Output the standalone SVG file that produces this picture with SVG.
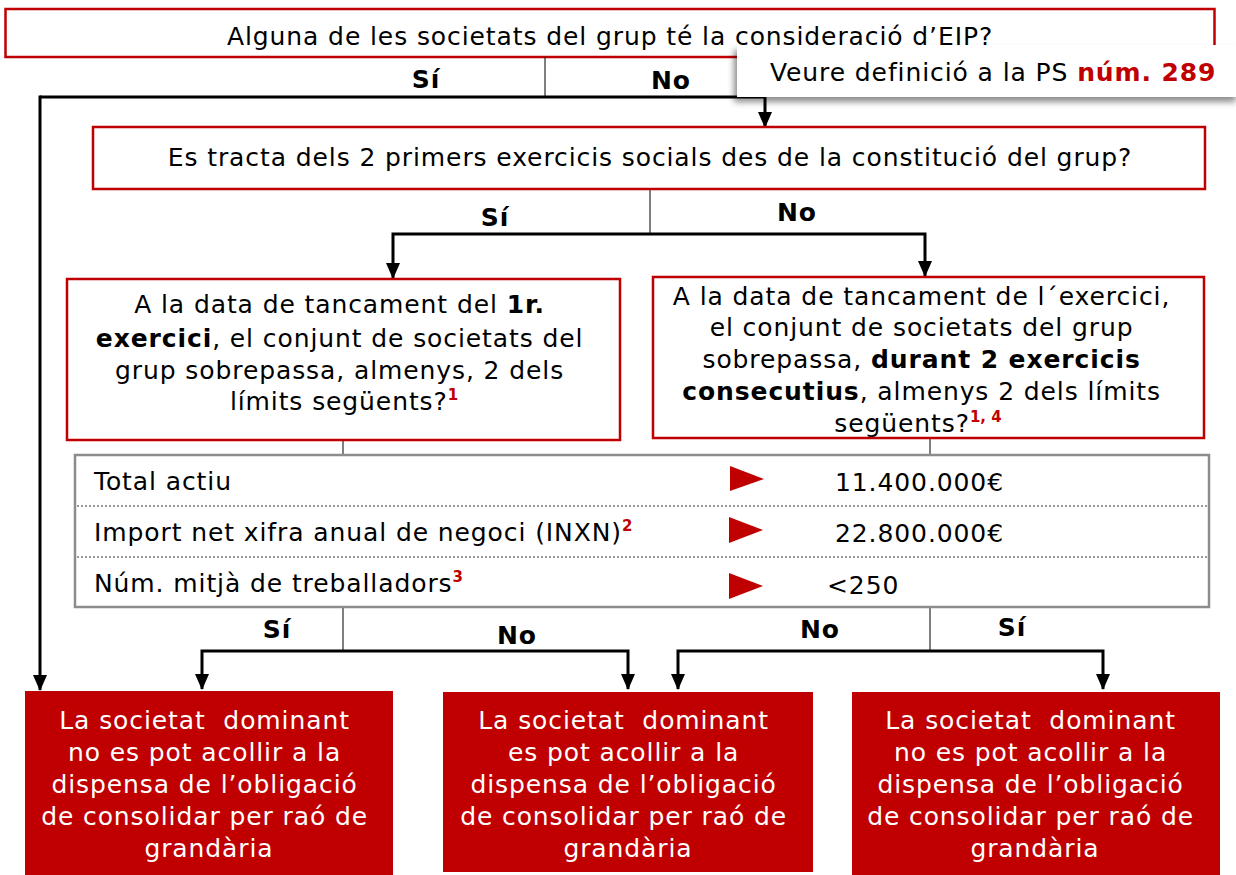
<svg xmlns="http://www.w3.org/2000/svg" width="1236" height="875" viewBox="0 0 1236 875">
<defs>
<style>
text{font-family:"DejaVu Sans",Verdana,sans-serif;font-size:25px;letter-spacing:0.9px;fill:#000}
.b{font-weight:bold}
.lbl{font-weight:bold;font-size:25px}
.sup{font-weight:bold;font-size:15px;fill:#c00000;letter-spacing:0}
.q{fill:#fff;stroke:#c00000;stroke-width:2.5}
.res{fill:#c00000}
.res text{fill:#fff}
.thin{stroke:#000;stroke-width:1;fill:none}
.main{stroke:#000;stroke-width:3;fill:none}
.tri{fill:#c00000}
.dot{stroke:#999;stroke-width:2;stroke-dasharray:2 2}
</style>
<marker id="ah" viewBox="0 0 16 14" refX="15" refY="7" markerWidth="16" markerHeight="14" markerUnits="userSpaceOnUse" orient="auto-start-reverse">
<path d="M0,0 L16,7 L0,14 Z" fill="#000"/>
</marker>
<filter id="sh" x="-5%" y="-30%" width="110%" height="180%">
<feDropShadow dx="-3" dy="5" stdDeviation="3" flood-color="#000" flood-opacity="0.45"/>
</filter>
</defs>

<g id="q-eip">
<rect class="q" x="5.5" y="9" width="1209" height="48"/>
<text x="610" y="45" text-anchor="middle">Alguna de les societats del grup té la consideració d’EIP?</text>
</g>

<g id="connectors">
<line class="thin" x1="545" y1="57" x2="545" y2="97"/>
<polyline class="main" points="40,97 765,97 765,127" marker-end="url(#ah)"/>
<line class="main" x1="40" y1="95.5" x2="40" y2="690" marker-end="url(#ah)"/>
<line class="thin" x1="650" y1="189" x2="650" y2="234"/>
<polyline class="main" points="393,278 393,234 925,234 925,276" marker-start="url(#ah)" marker-end="url(#ah)"/>
<line class="thin" x1="343" y1="440" x2="343" y2="455"/>
<line class="thin" x1="930" y1="438" x2="930" y2="455"/>
<line class="thin" x1="343" y1="607" x2="343" y2="651"/>
<polyline class="main" points="202,689 202,651 628,651 628,689" marker-start="url(#ah)" marker-end="url(#ah)"/>
<line class="thin" x1="930" y1="607" x2="930" y2="651"/>
<polyline class="main" points="678,689 678,651 1103,651 1103,689" marker-start="url(#ah)" marker-end="url(#ah)"/>
<text class="lbl" x="426" y="88" text-anchor="middle">Sí</text>
<text class="lbl" x="671" y="89" text-anchor="middle">No</text>
<text class="lbl" x="495" y="226" text-anchor="middle">Sí</text>
<text class="lbl" x="797" y="221" text-anchor="middle">No</text>
<text class="lbl" x="277" y="638" text-anchor="middle">Sí</text>
<text class="lbl" x="517" y="644" text-anchor="middle">No</text>
<text class="lbl" x="820" y="638" text-anchor="middle">No</text>
<text class="lbl" x="1012" y="636" text-anchor="middle">Sí</text>
</g>

<g id="note-ps">
<rect x="737" y="45" width="502" height="52" fill="#fff" filter="url(#sh)"/>
<text x="770" y="81">Veure definició a la PS <tspan class="b" fill="#c00000">núm. 289</tspan></text>
</g>

<g id="q-first">
<rect class="q" x="93" y="127" width="1112" height="62"/>
<text x="650" y="166" text-anchor="middle">Es tracta dels 2 primers exercicis socials des de la constitució del grup?</text>
</g>

<g id="q-1r">
<rect class="q" x="67" y="279" width="553" height="161"/>
<text text-anchor="middle">
<tspan x="344" y="313">A la data de tancament del <tspan class="b">1r.</tspan></tspan>
<tspan x="344" y="347"><tspan class="b">exercici</tspan>, el conjunt de societats del</tspan>
<tspan x="344" y="379">grup sobrepassa, almenys, 2 dels</tspan>
<tspan x="344" y="410">límits següents?<tspan class="sup" dy="-10">1</tspan></tspan>
</text>
</g>

<g id="q-2ex">
<rect class="q" x="653" y="277" width="551" height="161"/>
<text text-anchor="middle">
<tspan x="926" y="305">A la data de tancament de l´exercici,</tspan>
<tspan x="926" y="336">el conjunt de societats del grup</tspan>
<tspan x="926" y="368">sobrepassa, <tspan class="b">durant 2 exercicis</tspan></tspan>
<tspan x="926" y="400"><tspan class="b">consecutius</tspan>, almenys 2 dels límits</tspan>
<tspan x="918" y="432">següents?<tspan class="sup" dy="-10">1, 4</tspan></tspan>
</text>
</g>

<g id="limits">
<rect x="75" y="455" width="1134" height="152" fill="#fff" stroke="#8c8c8c" stroke-width="2.5"/>
<line class="dot" x1="77" y1="506" x2="1207" y2="506"/>
<line class="dot" x1="77" y1="557" x2="1207" y2="557"/>
<text x="94" y="490">Total actiu</text>
<text x="94" y="541">Import net xifra anual de negoci (INXN)<tspan class="sup" dy="-10">2</tspan></text>
<text x="94" y="592">Núm. mitjà de treballadors<tspan class="sup" dy="-10">3</tspan></text>
<polygon class="tri" points="730,466 764,479 730,491"/>
<polygon class="tri" points="729,517 763,530 729,543"/>
<polygon class="tri" points="729,573 763,586 729,599"/>
<text x="835" y="491">11.400.000€</text>
<text x="835" y="542">22.800.000€</text>
<text x="827" y="594">&lt;250</text>
</g>

<g id="res-left" class="res">
<rect x="25" y="691" width="368" height="184"/>
<text text-anchor="middle">
<tspan x="209" y="729">La societat&#160; dominant</tspan>
<tspan x="209" y="761">no es pot acollir a la</tspan>
<tspan x="209" y="793">dispensa de l’obligació</tspan>
<tspan x="209" y="825">de consolidar per raó de</tspan>
<tspan x="209" y="857">grandària</tspan>
</text>
</g>

<g id="res-mid" class="res">
<rect x="443" y="692" width="370" height="180"/>
<text text-anchor="middle">
<tspan x="628" y="729">La societat&#160; dominant</tspan>
<tspan x="628" y="761">es pot acollir a la</tspan>
<tspan x="628" y="793">dispensa de l’obligació</tspan>
<tspan x="628" y="825">de consolidar per raó de</tspan>
<tspan x="628" y="857">grandària</tspan>
</text>
</g>

<g id="res-right" class="res">
<rect x="852" y="692" width="368" height="183"/>
<text text-anchor="middle">
<tspan x="1035" y="729">La societat&#160; dominant</tspan>
<tspan x="1035" y="761">no es pot acollir a la</tspan>
<tspan x="1035" y="793">dispensa de l’obligació</tspan>
<tspan x="1035" y="825">de consolidar per raó de</tspan>
<tspan x="1035" y="857">grandària</tspan>
</text>
</g>
</svg>
